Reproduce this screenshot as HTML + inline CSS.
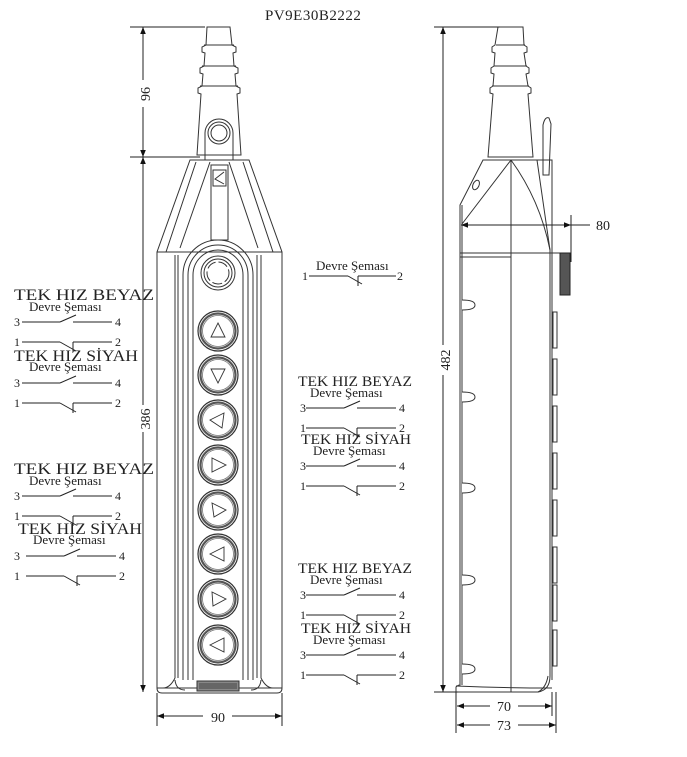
<!DOCTYPE html>
<html><head><meta charset="utf-8"><style>
html,body{margin:0;padding:0;background:#fff;}
svg{display:block;}
text{font-family:"Liberation Serif",serif;fill:#222;}
</style></head><body>
<svg width="687" height="757" viewBox="0 0 687 757" xmlns="http://www.w3.org/2000/svg">
<defs>
<marker id="a" viewBox="0 0 10 10" refX="10" refY="5" markerWidth="9" markerHeight="7" orient="auto-start-reverse" markerUnits="userSpaceOnUse"><path d="M0,1 L10,5 L0,9 Z" fill="#111"/></marker>
<g id="btn"><circle r="20" fill="#fff" stroke="#333" stroke-width="1.2"/><circle r="17.5" fill="none" stroke="#555" stroke-width="2.2"/><circle r="15.5" fill="none" stroke="#777" stroke-width="0.8"/></g>
<g id="grp" stroke="#222" stroke-width="1" fill="none">
<line x1="22" y1="322" x2="60" y2="322"/><line x1="60" y1="322" x2="76" y2="315"/><line x1="73" y1="322" x2="112" y2="322"/>
<line x1="22" y1="342" x2="60" y2="342"/><line x1="60" y1="342" x2="76" y2="351"/><line x1="73" y1="342" x2="112" y2="342"/><line x1="73" y1="342" x2="73" y2="352"/>
</g>
</defs>

<text x="265" y="20" font-size="15" letter-spacing="0.5">PV9E30B2222</text>

<!-- FRONT VIEW -->
<g fill="none" stroke="#333" stroke-width="1">
<path d="M207,27 L230,27 L232,45 L236,47 L236,52 L233,53 L234,66 L238,68 L238,73 L235,74 L236,86 L240,88 L240,93 L237,94 L241,155 L197,155 L201,94 L198,93 L198,88 L202,86 L203,74 L200,73 L200,68 L204,66 L205,53 L202,52 L202,47 L206,45 Z" fill="#fff"/>
<line x1="204" y1="45" x2="234" y2="45"/><line x1="202" y1="66" x2="236" y2="66"/><line x1="200" y1="86" x2="238" y2="86"/>
<circle cx="219" cy="133" r="11"/><circle cx="219" cy="133" r="8"/>
<path d="M205,170 L205,133 A14,14 0 0 1 233,133 L233,170"/>
<path d="M190,160 L249,160 L282,252 L282,688 Q282,693 277,693 L162,693 Q157,693 157,688 L157,252 Z" fill="#fff"/>
<line x1="157" y1="252" x2="282" y2="252"/>
<path d="M196,162 L166,252 M243,162 L273,252"/>
<path d="M210,162 L180,248 M229,162 L258,248"/>
<rect x="211" y="165" width="17" height="75"/>
<path d="M213,170 L226,170 L226,186 L213,186 Z M224,172 L215,179 L224,184"/>
<path d="M175,255 L175,678 M178,255 L178,678 M257,255 L257,678 M261,255 L261,678"/>
<path d="M183,680 L183,275 A35,35 0 0 1 253,275 L253,680"/>
<path d="M188,680 L188,275 A30,30 0 0 1 248,275 L248,680"/>
<path d="M193,680 L193,275 A25,25 0 0 1 243,275 L243,680"/>
<path d="M163,688 Q170,688 175,678 M273,688 Q266,688 261,678"/>
<path d="M175,680 Q176,690 185,690 M261,680 Q260,690 251,690"/>
<line x1="157" y1="688" x2="282" y2="688"/>
<circle cx="218" cy="273" r="17"/><circle cx="218" cy="273" r="14"/><circle cx="218" cy="273" r="11" stroke-dasharray="10,3"/>
</g>
<rect x="197" y="681" width="42" height="10" fill="#888" stroke="#333" stroke-width="1"/>
<rect x="199" y="683" width="38" height="6" fill="#666"/>

<use href="#btn" x="218" y="331"/><use href="#btn" x="218" y="375"/><use href="#btn" x="218" y="420"/><use href="#btn" x="218" y="465"/>
<use href="#btn" x="218" y="510"/><use href="#btn" x="218" y="554"/><use href="#btn" x="218" y="599"/><use href="#btn" x="218" y="645"/>
<g fill="none" stroke="#333" stroke-width="0.9">
<path d="M218,323 L225,337 L211,337 Z"/>
<path d="M218,383 L225,369 L211,369 Z"/>
<path d="M210,420 L224,413 L222,428 Z"/>
<path d="M226,465 L212,458 L212,472 Z"/>
<path d="M226,510 L212,503 L214,517 Z"/>
<path d="M210,554 L224,547 L224,561 Z"/>
<path d="M226,599 L212,592 L213,606 Z"/>
<path d="M210,645 L224,638 L224,652 Z"/>
</g>

<g stroke="#222" stroke-width="1" fill="none">
<line x1="130" y1="27" x2="205" y2="27"/>
<line x1="130" y1="157" x2="200" y2="157"/>
<line x1="143" y1="27" x2="143" y2="80" marker-start="url(#a)"/>
<line x1="143" y1="107" x2="143" y2="157" marker-end="url(#a)"/>
<line x1="143" y1="157" x2="143" y2="405" marker-start="url(#a)"/>
<line x1="143" y1="432" x2="143" y2="692" marker-end="url(#a)"/>
<line x1="157" y1="693" x2="157" y2="726"/><line x1="282" y1="693" x2="282" y2="726"/>
<line x1="157" y1="716" x2="203" y2="716" marker-start="url(#a)"/>
<line x1="232" y1="716" x2="282" y2="716" marker-end="url(#a)"/>
</g>
<text x="150" y="94" font-size="14" transform="rotate(-90 150 94)" text-anchor="middle">96</text>
<text x="150" y="419" font-size="14" transform="rotate(-90 150 419)" text-anchor="middle">386</text>
<text x="218" y="722" font-size="14" text-anchor="middle">90</text>

<!-- SIDE VIEW -->
<g fill="none" stroke="#333" stroke-width="1">
<path d="M498,27 L523,27 L524,45 L527,47 L527,52 L524,53 L526,66 L529,68 L529,73 L526,74 L528,86 L531,88 L531,93 L528,94 L533,157 L488,157 L493,94 L490,93 L490,88 L493,86 L494,74 L491,73 L491,68 L494,66 L495,53 L492,52 L492,47 L495,45 Z" fill="#fff"/>
<line x1="496" y1="45" x2="525" y2="45"/><line x1="494" y1="66" x2="527" y2="66"/><line x1="492" y1="86" x2="529" y2="86"/>
<path d="M543,175 L543,125 Q545,116 549,118 L551,124 L549,175 Z"/>
<path d="M483,160 L537,160 L550,250 L550,676 Q550,690 538,692 L456,692 L456,687 Q458,685 460,685 L460,205 Z" fill="#fff"/>
<path d="M537,160 L552,160 L552,680"/>
<path d="M511,160 L462,224 M511,160 Q540,200 550,250"/>
<line x1="511" y1="160" x2="511" y2="692"/>
<line x1="462" y1="205" x2="462" y2="685"/>
<line x1="460" y1="253" x2="565" y2="253"/><line x1="460" y1="257" x2="511" y2="257"/>
<path d="M456,686 Q505,688 552,688 M548,676 Q546,688 538,692"/>
<ellipse cx="476" cy="185" rx="3" ry="5" transform="rotate(25 476 185)"/>
</g>
<rect x="560" y="253" width="10" height="42" fill="#555" stroke="#222"/>
<g fill="#fff" stroke="#333" stroke-width="1">
<rect x="553" y="312" width="4" height="36"/><rect x="553" y="359" width="4" height="36"/><rect x="553" y="406" width="4" height="36"/>
<rect x="553" y="453" width="4" height="36"/><rect x="553" y="500" width="4" height="36"/><rect x="553" y="547" width="4" height="36"/>
<rect x="553" y="585" width="4" height="36"/><rect x="553" y="630" width="4" height="36"/>
<path d="M462,300 Q475,300 475,305 Q475,310 462,310"/>
<path d="M462,392 Q475,392 475,397 Q475,402 462,402"/>
<path d="M462,483 Q475,483 475,488 Q475,493 462,493"/>
<path d="M462,575 Q475,575 475,580 Q475,585 462,585"/>
<path d="M462,664 Q475,664 475,669 Q475,674 462,674"/>
</g>
<g stroke="#222" stroke-width="1" fill="none">
<line x1="434" y1="27" x2="500" y2="27"/>
<line x1="434" y1="692" x2="458" y2="692"/>
<line x1="443" y1="27" x2="443" y2="345" marker-start="url(#a)"/>
<line x1="443" y1="375" x2="443" y2="692" marker-end="url(#a)"/>
<line x1="571" y1="215" x2="571" y2="262"/>
<line x1="461" y1="225" x2="571" y2="225" marker-start="url(#a)" marker-end="url(#a)"/>
<line x1="571" y1="225" x2="590" y2="225"/>
<line x1="456" y1="692" x2="456" y2="733"/><line x1="552" y1="692" x2="552" y2="716"/><line x1="556" y1="692" x2="556" y2="733"/>
<line x1="457" y1="706" x2="490" y2="706" marker-start="url(#a)"/>
<line x1="518" y1="706" x2="552" y2="706" marker-end="url(#a)"/>
<line x1="457" y1="725" x2="490" y2="725" marker-start="url(#a)"/>
<line x1="518" y1="725" x2="556" y2="725" marker-end="url(#a)"/>
</g>
<text x="603" y="230" font-size="14" text-anchor="middle">80</text>
<text x="450" y="360" font-size="14" transform="rotate(-90 450 360)" text-anchor="middle">482</text>
<text x="504" y="711" font-size="14" text-anchor="middle">70</text>
<text x="504" y="730" font-size="14" text-anchor="middle">73</text>

<text x="316" y="270" font-size="13">Devre Şeması</text>
<text x="302" y="280" font-size="12">1</text><text x="397" y="280" font-size="12">2</text>
<g stroke="#222" stroke-width="1" fill="none">
<line x1="309" y1="276" x2="348" y2="276"/><line x1="348" y1="276" x2="362" y2="284"/>
<line x1="358" y1="276" x2="396" y2="276"/><line x1="358" y1="276" x2="358" y2="286"/>
</g>

<g>
<text x="14" y="300" font-size="16" textLength="140" lengthAdjust="spacingAndGlyphs">TEK HIZ BEYAZ</text>
<text x="29" y="311" font-size="13">Devre Şeması</text>
<text x="14" y="326" font-size="12">3</text><text x="115" y="326" font-size="12">4</text>
<text x="14" y="346" font-size="12">1</text><text x="115" y="346" font-size="12">2</text>
<use href="#grp"/>
</g>
<g transform="translate(0,61)">
<text x="14" y="300" font-size="16" textLength="124" lengthAdjust="spacingAndGlyphs">TEK HIZ SİYAH</text>
<text x="29" y="310" font-size="13">Devre Şeması</text>
<text x="14" y="326" font-size="12">3</text><text x="115" y="326" font-size="12">4</text>
<text x="14" y="346" font-size="12">1</text><text x="115" y="346" font-size="12">2</text>
<use href="#grp"/>
</g>
<g transform="translate(0,174)">
<text x="14" y="300" font-size="16" textLength="140" lengthAdjust="spacingAndGlyphs">TEK HIZ BEYAZ</text>
<text x="29" y="311" font-size="13">Devre Şeması</text>
<text x="14" y="326" font-size="12">3</text><text x="115" y="326" font-size="12">4</text>
<text x="14" y="346" font-size="12">1</text><text x="115" y="346" font-size="12">2</text>
<use href="#grp"/>
</g>
<g transform="translate(4,234)">
<text x="14" y="300" font-size="16" textLength="124" lengthAdjust="spacingAndGlyphs">TEK HIZ SİYAH</text>
<text x="29" y="310" font-size="13">Devre Şeması</text>
<text x="10" y="326" font-size="12">3</text><text x="115" y="326" font-size="12">4</text>
<text x="10" y="346" font-size="12">1</text><text x="115" y="346" font-size="12">2</text>
<use href="#grp"/>
</g>
<g transform="translate(284,86)">
<text x="14" y="300" font-size="15" textLength="114" lengthAdjust="spacingAndGlyphs">TEK HIZ BEYAZ</text>
<text x="26" y="311" font-size="13">Devre Şeması</text>
<text x="16" y="326" font-size="12">3</text><text x="115" y="326" font-size="12">4</text>
<text x="16" y="346" font-size="12">1</text><text x="115" y="346" font-size="12">2</text>
<use href="#grp"/>
</g>
<g transform="translate(284,144)">
<text x="17" y="300" font-size="15" textLength="110" lengthAdjust="spacingAndGlyphs">TEK HIZ SİYAH</text>
<text x="29" y="311" font-size="13">Devre Şeması</text>
<text x="16" y="326" font-size="12">3</text><text x="115" y="326" font-size="12">4</text>
<text x="16" y="346" font-size="12">1</text><text x="115" y="346" font-size="12">2</text>
<use href="#grp"/>
</g>
<g transform="translate(284,273)">
<text x="14" y="300" font-size="15" textLength="114" lengthAdjust="spacingAndGlyphs">TEK HIZ BEYAZ</text>
<text x="26" y="311" font-size="13">Devre Şeması</text>
<text x="16" y="326" font-size="12">3</text><text x="115" y="326" font-size="12">4</text>
<text x="16" y="346" font-size="12">1</text><text x="115" y="346" font-size="12">2</text>
<use href="#grp"/>
</g>
<g transform="translate(284,333)">
<text x="17" y="300" font-size="15" textLength="110" lengthAdjust="spacingAndGlyphs">TEK HIZ SİYAH</text>
<text x="29" y="311" font-size="13">Devre Şeması</text>
<text x="16" y="326" font-size="12">3</text><text x="115" y="326" font-size="12">4</text>
<text x="16" y="346" font-size="12">1</text><text x="115" y="346" font-size="12">2</text>
<use href="#grp"/>
</g>
</svg>
</body></html>
